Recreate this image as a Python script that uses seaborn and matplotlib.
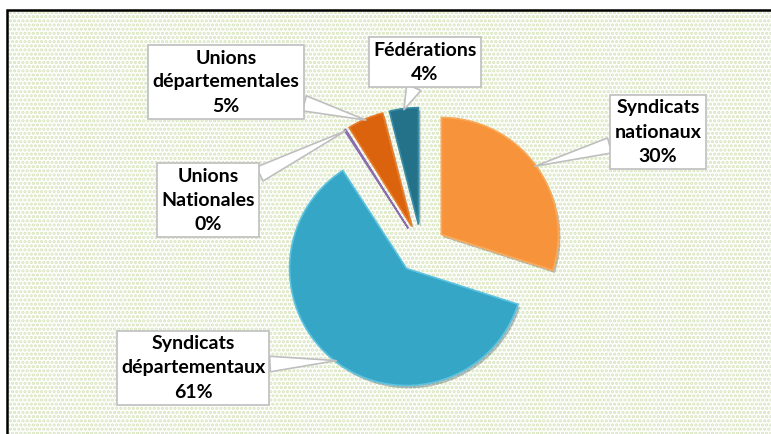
import matplotlib
matplotlib.use("Agg")
import matplotlib.pyplot as plt
import matplotlib.patches as mpatches
import matplotlib.patheffects as pe
import numpy as np
import seaborn as sns

# data (clockwise from 12 o'clock)
categories = ["Syndicats\nnationaux", "Syndicats\ndépartementaux", "Unions\nNationales",
              "Unions\ndépartementales", "Fédérations"]
values = [30, 61, 0.2, 5, 4]
colors = ["#f7933a", "#36a6c7", "#7e5ea0", "#dc630d", "#23728a"]
edge_colors = ["#f9a95a", "#5cc2e0", "#8a6cb0", "#e87b2a", "#3a8ca5"]

# label box centres in figure pixels (x from left, y from top)
label_pos = [(658, 132), (193, 368), (208, 200), (226, 82), (425, 62)]

W, H = 771, 434
sns.set_style("white")
plt.rcParams["font.family"] = ["Lato", "DejaVu Sans"]
plt.rcParams["hatch.linewidth"] = 1.6

fig = plt.figure(figsize=(W / 100, H / 100), dpi=100)

# chart area with dotted green fill and black border
bg = mpatches.Rectangle((7 / W, -0.05), 1.1, (H - 10) / H + 0.05, transform=fig.transFigure,
                        facecolor="white", edgecolor="#d6e4bb", hatch="....", lw=0, zorder=-2)
border = mpatches.Rectangle((7 / W, -0.05), 1.1, (H - 10) / H + 0.05, transform=fig.transFigure,
                            facecolor="none", edgecolor="black", lw=1.8, zorder=-1)
fig.patches.extend([bg, border])

ax = fig.add_axes([0, 0, 1, 1])
ax.set_facecolor("none")

r_px = 117.0
cx, cy = 421.5, 249.0
wedges, _ = ax.pie(values, colors=sns.color_palette(colors), startangle=90, counterclock=False,
                   explode=[0.21] * len(values), radius=1,
                   wedgeprops=dict(linewidth=1.2))
for w, ec in zip(wedges, edge_colors):
    w.set_edgecolor(ec)
    w.set_path_effects([pe.SimplePatchShadow(offset=(1.5, -2), alpha=0.3), pe.Normal()])

ax.set_xlim(-cx / r_px, (W - cx) / r_px)
ax.set_ylim(-(H - cy) / r_px, cy / r_px)
ax.set_aspect("equal")
ax.axis("off")

total = sum(values)
for w, lab, v, (bx, by) in zip(wedges, categories, values, label_pos):
    tm = np.deg2rad((w.theta1 + w.theta2) / 2)
    tip = (w.center[0] + 0.99 * w.r * np.cos(tm), w.center[1] + 0.99 * w.r * np.sin(tm))
    ax.annotate(f"{lab}\n{v / total * 100:.0f}%", xy=tip, xycoords="data",
                xytext=(bx, H - by), textcoords="figure pixels",
                ha="center", va="center", multialignment="center",
                fontsize=14, fontweight="bold", color="black", linespacing=1.5,
                bbox=dict(boxstyle="square,pad=0.22", fc="white", ec="#bfbfbf", lw=1.2),
                arrowprops=dict(arrowstyle="wedge,tail_width=0.8,shrink_factor=0.5",
                                fc="white", ec="#bfbfbf", lw=1.2, shrinkA=0, shrinkB=0))

fig.savefig("out.png", dpi=100)
